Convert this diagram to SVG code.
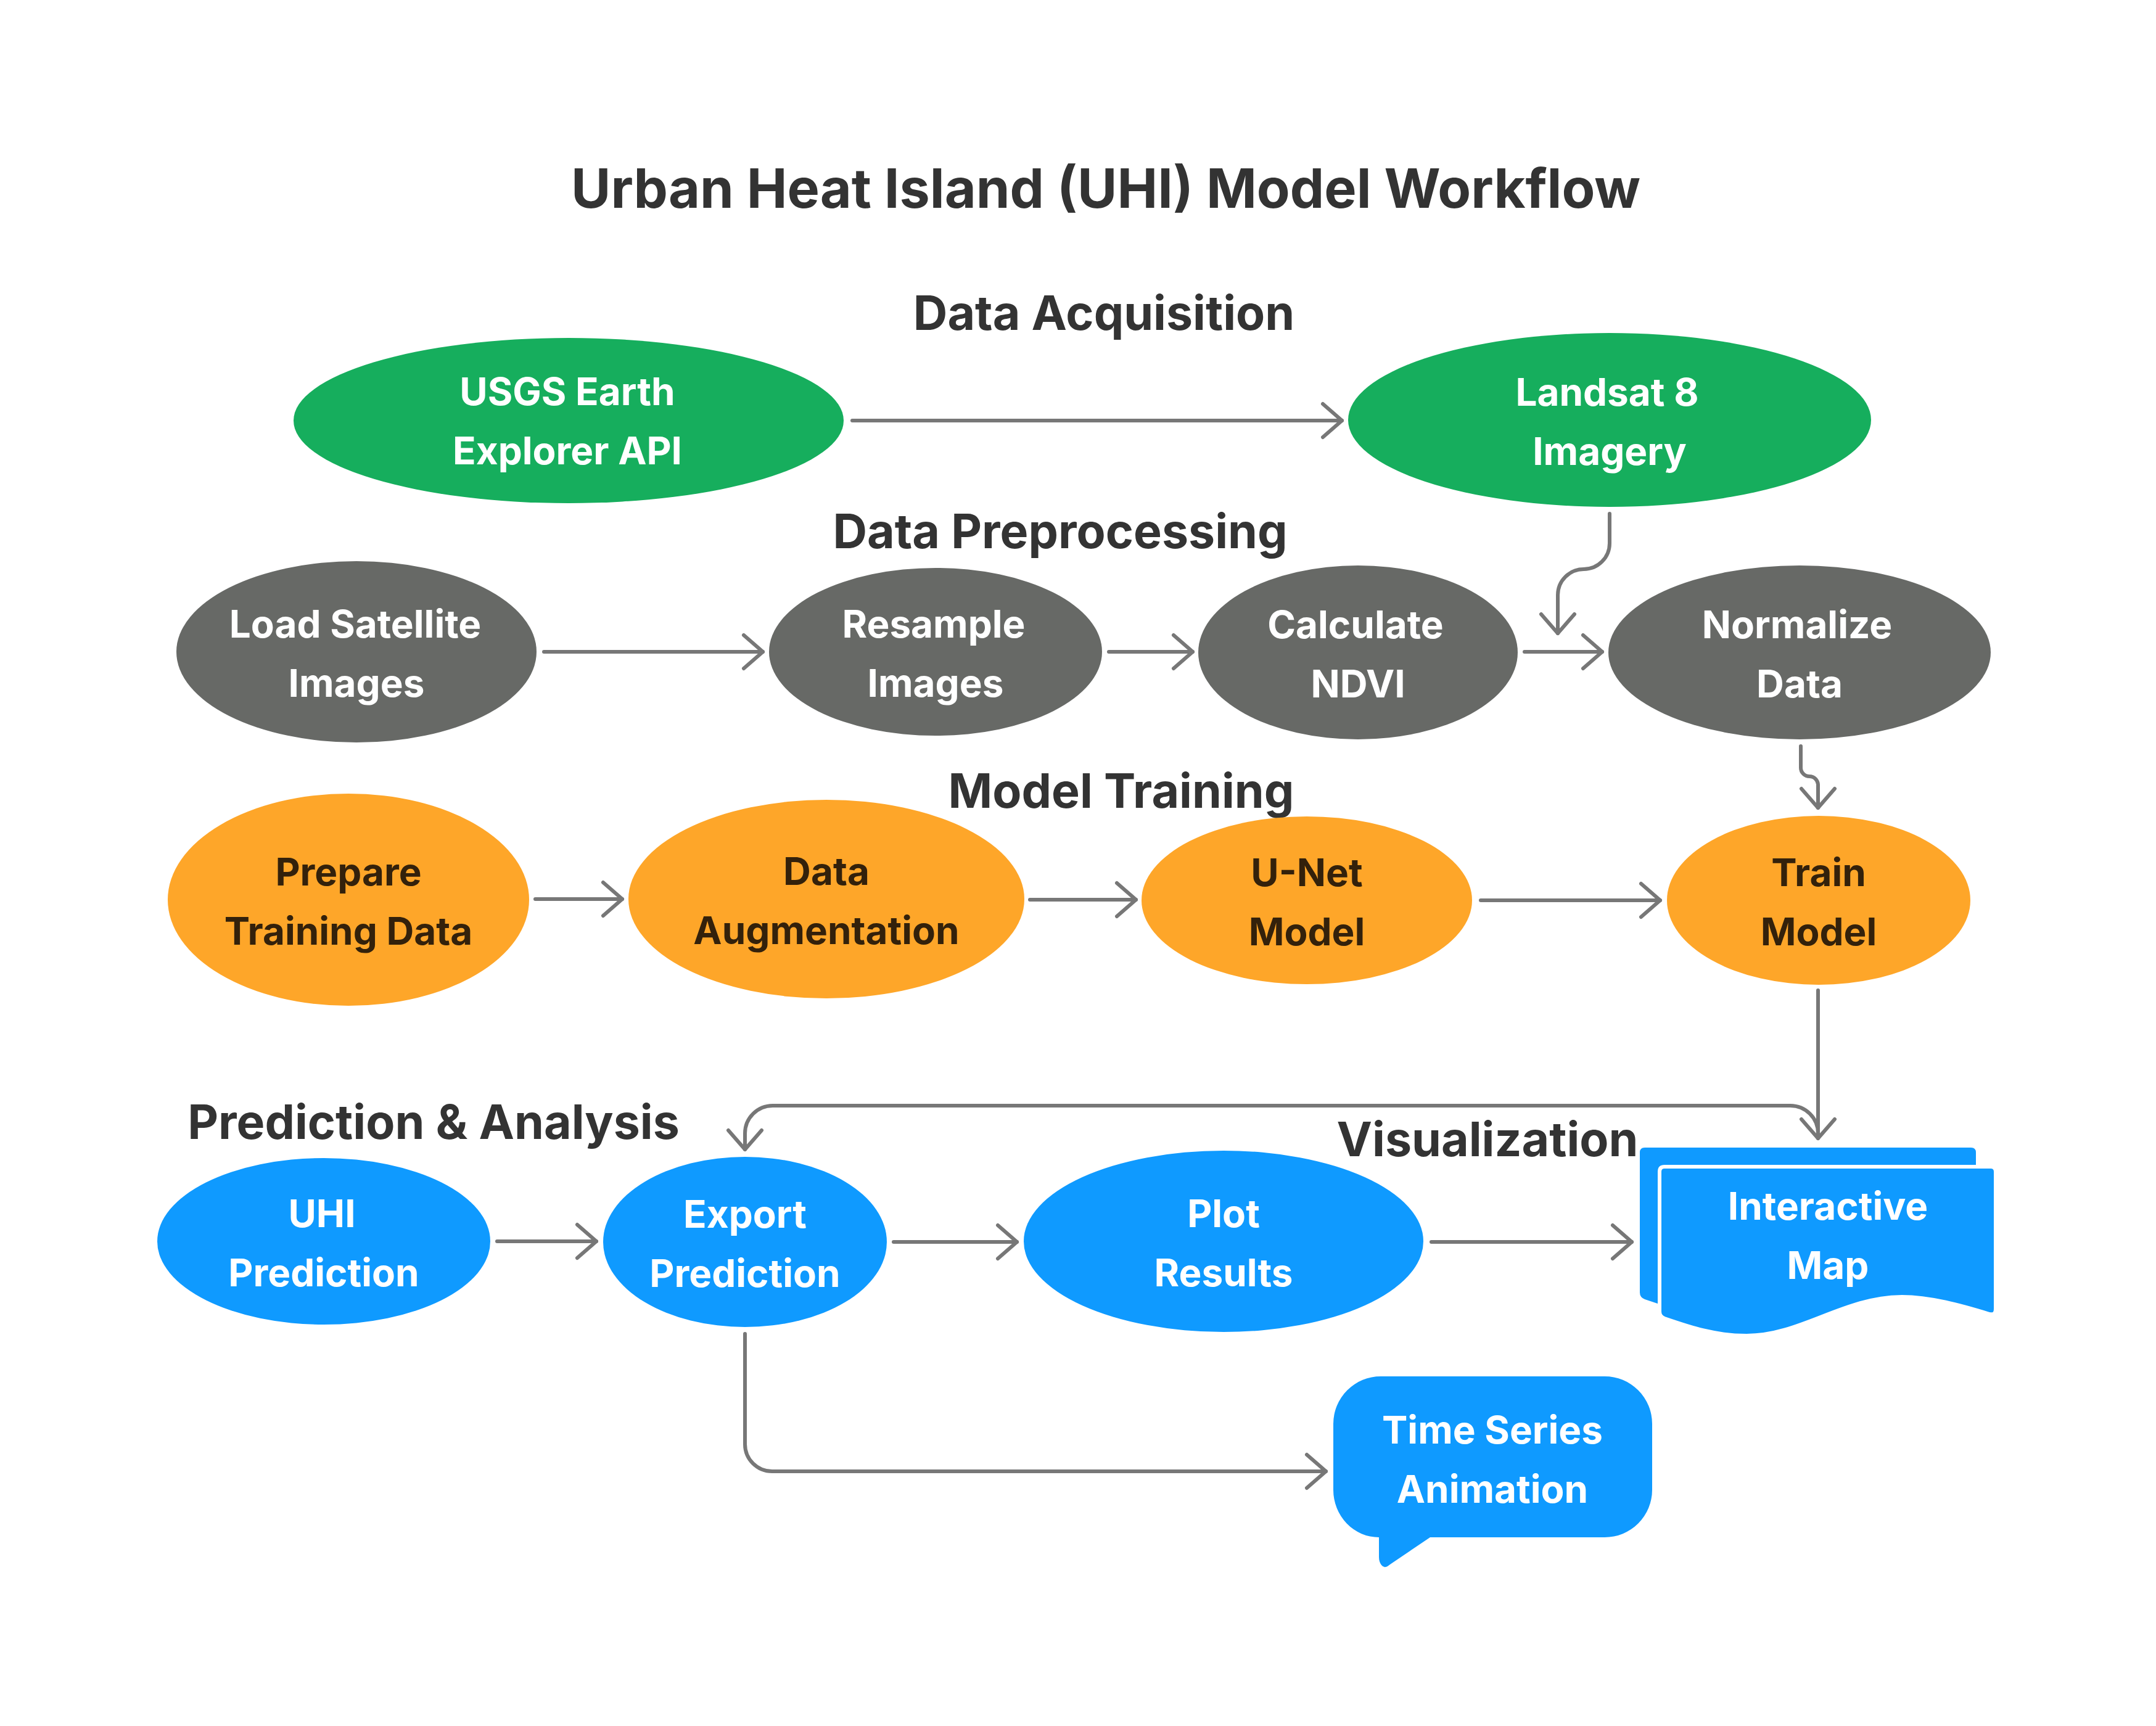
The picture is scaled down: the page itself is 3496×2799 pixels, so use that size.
<svg xmlns="http://www.w3.org/2000/svg" width="3496" height="2799" viewBox="0 0 3496 2799">
<defs>
<style>
.title{font-family:Inter,"Liberation Sans",sans-serif;font-weight:700;font-size:88px;fill:#333333;text-anchor:middle}
.sec{font-family:Inter,"Liberation Sans",sans-serif;font-weight:700;font-size:77px;fill:#333333;text-anchor:middle}
.lbl{font-family:Inter,"Liberation Sans",sans-serif;font-weight:700;font-size:62px;text-anchor:middle}
.w{fill:#ffffff}
.d{fill:#33210b}
.green{fill:#16ae5d}
.gray{fill:#676966}
.orange{fill:#fea629}
.blue{fill:#0f9aff}
.conn{fill:none;stroke:#777777;stroke-width:6;stroke-linecap:round;stroke-linejoin:round;marker-end:url(#arr)}
</style>
<marker id="arr" markerUnits="userSpaceOnUse" markerWidth="80" markerHeight="80" viewBox="-40 -40 80 80" refX="0" refY="0" orient="auto" overflow="visible">
<path d="M-31,-27 L0,0 L-31,27" fill="none" stroke="#777777" stroke-width="6" stroke-linecap="round" stroke-linejoin="round"/>
</marker>
</defs>
<rect width="3496" height="2799" fill="#ffffff"/>

<text class="title" x="1793" y="337">Urban Heat Island (UHI) Model Workflow</text>

<g id="sections">
<text class="sec" x="1790" y="535">Data Acquisition</text>
<text class="sec" x="1719" y="889">Data Preprocessing</text>
<text class="sec" x="1818" y="1310">Model Training</text>
<text class="sec" x="703" y="1847">Prediction &amp; Analysis</text>
<text class="sec" x="2412" y="1875">Visualization</text>
</g>

<g id="connectors">
<path class="conn" d="M1382,682 H2176"/>
<path class="conn" d="M2610,833 V881 A42,42 0 0 1 2568,923 A42,42 0 0 0 2526,965 V1027"/>
<path class="conn" d="M882,1057 H1237"/>
<path class="conn" d="M1798,1057 H1934"/>
<path class="conn" d="M2472,1057 H2598"/>
<path class="conn" d="M2920,1210 V1245 A14,14 0 0 0 2934,1259 A14,14 0 0 1 2948,1273 V1310"/>
<path class="conn" d="M868,1458 H1009"/>
<path class="conn" d="M1670,1459 H1842"/>
<path class="conn" d="M2401,1460 H2692"/>
<path class="conn" d="M2948,1606 V1846"/>
<path class="conn" d="M2948,1838 A45,45 0 0 0 2903,1793 H1253 A45,45 0 0 0 1208,1838 V1864"/>
<path class="conn" d="M806,2013 H967"/>
<path class="conn" d="M1449,2014 H1649"/>
<path class="conn" d="M2321,2014 H2646"/>
<path class="conn" d="M1208,2163 V2342 A44,44 0 0 0 1252,2386 H2150"/>
</g>

<g id="usgs">
<ellipse class="green" cx="922" cy="682" rx="446" ry="134"/>
<text class="lbl w" x="920" y="657">USGS Earth</text>
<text class="lbl w" x="920" y="753">Explorer API</text>
</g>
<g id="landsat">
<ellipse class="green" cx="2610" cy="681" rx="424" ry="141"/>
<text class="lbl w" x="2606" y="658">Landsat 8</text>
<text class="lbl w" x="2610" y="754">Imagery</text>
</g>

<g id="load">
<ellipse class="gray" cx="578" cy="1057" rx="292" ry="147"/>
<text class="lbl w" x="576" y="1034">Load Satellite</text>
<text class="lbl w" x="578" y="1130">Images</text>
</g>
<g id="resample">
<ellipse class="gray" cx="1517" cy="1057" rx="270" ry="136"/>
<text class="lbl w" x="1514" y="1034">Resample</text>
<text class="lbl w" x="1517" y="1130">Images</text>
</g>
<g id="ndvi">
<ellipse class="gray" cx="2202" cy="1058" rx="259" ry="141"/>
<text class="lbl w" x="2198" y="1035">Calculate</text>
<text class="lbl w" x="2202" y="1131">NDVI</text>
</g>
<g id="normalize">
<ellipse class="gray" cx="2918" cy="1058" rx="310" ry="141"/>
<text class="lbl w" x="2914" y="1035">Normalize</text>
<text class="lbl w" x="2918" y="1131">Data</text>
</g>

<g id="prepare">
<ellipse class="orange" cx="565" cy="1459" rx="293" ry="172"/>
<text class="lbl d" x="565" y="1436">Prepare</text>
<text class="lbl d" x="565" y="1532">Training Data</text>
</g>
<g id="augment">
<ellipse class="orange" cx="1340" cy="1458" rx="321" ry="161"/>
<text class="lbl d" x="1340" y="1435">Data</text>
<text class="lbl d" x="1340" y="1531">Augmentation</text>
</g>
<g id="unet">
<ellipse class="orange" cx="2119" cy="1460" rx="268" ry="136"/>
<text class="lbl d" x="2119" y="1437">U-Net</text>
<text class="lbl d" x="2119" y="1533">Model</text>
</g>
<g id="train">
<ellipse class="orange" cx="2949" cy="1460" rx="246" ry="137"/>
<text class="lbl d" x="2949" y="1437">Train</text>
<text class="lbl d" x="2949" y="1533">Model</text>
</g>

<g id="uhi">
<ellipse class="blue" cx="525" cy="2013" rx="270" ry="135"/>
<text class="lbl w" x="522" y="1990">UHI</text>
<text class="lbl w" x="525" y="2086">Prediction</text>
</g>
<g id="export">
<ellipse class="blue" cx="1208" cy="2014" rx="230" ry="138"/>
<text class="lbl w" x="1208" y="1991">Export</text>
<text class="lbl w" x="1208" y="2087">Prediction</text>
</g>
<g id="plot">
<ellipse class="blue" cx="1984" cy="2013" rx="324" ry="147"/>
<text class="lbl w" x="1984" y="1990">Plot</text>
<text class="lbl w" x="1984" y="2086">Results</text>
</g>
<g id="map">
<path class="blue" transform="translate(-32,-31)" d="M2699,1892 H3228 Q3236,1892 3236,1900 V2123 Q3236,2133 3226,2131 C3180,2117 3130,2103 3084,2103 C2990,2103 2920,2166 2832,2166 C2780,2166 2740,2152 2699,2138 Q2691,2135 2691,2127 V1900 Q2691,1892 2699,1892 Z"/>
<path class="blue" stroke="#ffffff" stroke-width="6" d="M2699,1892 H3228 Q3236,1892 3236,1900 V2123 Q3236,2133 3226,2131 C3180,2117 3130,2103 3084,2103 C2990,2103 2920,2166 2832,2166 C2780,2166 2740,2152 2699,2138 Q2691,2135 2691,2127 V1900 Q2691,1892 2699,1892 Z"/>
<text class="lbl w" x="2964" y="1978">Interactive</text>
<text class="lbl w" x="2964" y="2074">Map</text>
</g>
<g id="timeseries">
<path class="blue" d="M2239,2232 H2602 A77,77 0 0 1 2679,2309 V2416 A77,77 0 0 1 2602,2493 H2319 L2254,2537 Q2245,2545 2240,2538 Q2236,2533 2236,2525 V2493 A74,77 0 0 1 2162,2416 V2309 A77,77 0 0 1 2239,2232 Z"/>
<text class="lbl w" x="2420" y="2341">Time Series</text>
<text class="lbl w" x="2420" y="2437">Animation</text>
</g>
</svg>
